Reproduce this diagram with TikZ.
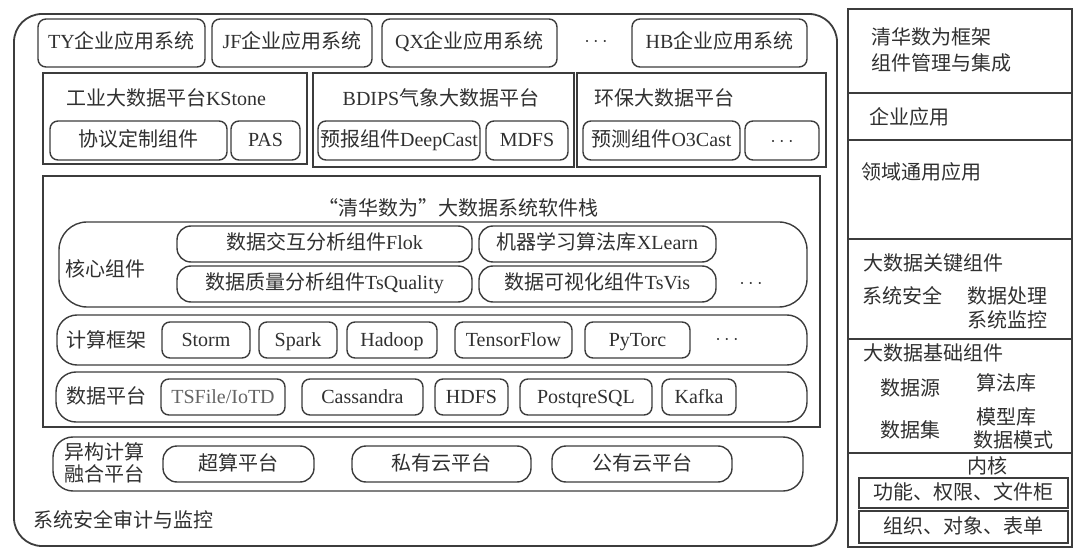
\documentclass[tikz,border=0pt]{standalone}
\usepackage{fontspec}
\setmainfont{Liberation Serif}
\newfontfamily\cjk{Noto Sans CJK SC}
\newcommand\zh[1]{{\cjk #1}}
\definecolor{lc}{HTML}{3C3C3C}
\definecolor{tc}{HTML}{303030}
\tikzset{
  ln/.style={draw=lc, line width=0.9pt},
  thin ln/.style={draw=lc, line width=0.7pt},
  rbox/.style={thin ln, rounded corners=4pt, inner sep=0pt, text=tc, font=\fontsize{10}{12}\selectfont, text height=7.8pt, text depth=1.8pt},
  grp/.style={thin ln, rounded corners=10pt, inner sep=0pt},
  plat/.style={thin ln, inner sep=0pt, text=tc, font=\fontsize{10}{12}\selectfont, text height=7.8pt, text depth=1.8pt},
  txt/.style={text=tc, inner sep=0pt, font=\fontsize{10}{12}\selectfont},
  lab/.style={txt, anchor=west},
}
% box from pixel corners: style, x1, y1, x2, y2, name
\newcommand\bx[6]{\node[#1, minimum width={(#4-#2)*0.5pt}, minimum height={(#5-#3)*0.5pt}] (#6) at ({(#2+#4)/2},{(#3+#5)/2})}
\begin{document}
\begin{tikzpicture}[x=0.5pt,y=-0.5pt]
\useasboundingbox (0,0) rectangle (1080,555);
% outer frame
\bx{ln, rounded corners=14pt, inner sep=0pt}{14}{14}{837}{546}{outer} {};
% top row
\bx{rbox}{38}{19}{205}{67}{ty} {TY\zh{企业应用系统}};
\bx{rbox}{212}{19}{372}{67}{jf} {JF\zh{企业应用系统}};
\bx{rbox}{382}{19}{557}{67}{qx} {QX\zh{企业应用系统}};
\node[txt] (d1) at (596,42) {$\cdots$};
\bx{rbox}{632}{19}{807}{67}{hb} {HB\zh{企业应用系统}};
% platforms
\bx{plat}{43}{73}{307}{164}{p1} {};
\bx{plat}{313}{73}{574}{167}{p2} {};
\bx{plat}{577}{73}{826}{167}{p3} {};
\node[txt] (p1t) at (166,98) {\zh{工业大数据平台}KStone};
\node[txt] (p2t) at (441,98) {BDIPS\zh{气象大数据平台}};
\node[txt] (p3t) at (664,98) {\zh{环保大数据平台}};
\bx{rbox}{50}{121}{227}{160}{xy} {\zh{协议定制组件}};
\bx{rbox}{231}{121}{300}{160}{pas} {PAS};
\bx{rbox}{318}{121}{480}{160}{dc} {\zh{预报组件}DeepCast};
\bx{rbox}{486}{121}{568}{160}{mdfs} {MDFS};
\bx{rbox}{583}{121}{740}{160}{o3} {\zh{预测组件}O3Cast};
\bx{rbox}{745}{121}{819}{160}{d2} {$\cdots$};
% software stack
\bx{plat}{43}{176}{820}{427}{stack} {};
\node[txt] (stackt) at (458,208) {\zh{“清华数为”大数据系统软件栈}};
% core components
\bx{grp, rounded corners=14pt}{59}{222}{807}{307}{core} {};
\node[txt] (coret) at (105,269) {\zh{核心组件}};
\bx{rbox, rounded corners=7pt}{177}{226}{472}{262}{flok} {\zh{数据交互分析组件}Flok};
\bx{rbox, rounded corners=7pt}{479}{226}{716}{262}{xl} {\zh{机器学习算法库}XLearn};
\bx{rbox, rounded corners=7pt}{177}{266}{472}{302}{tsq} {\zh{数据质量分析组件}TsQuality};
\bx{rbox, rounded corners=7pt}{479}{266}{716}{302}{tsv} {\zh{数据可视化组件}TsVis};
\node[txt] (d3) at (751,284) {$\cdots$};
% computing frameworks
\bx{grp}{57}{315}{807}{365}{comp} {};
\node[txt] (compt) at (106,340) {\zh{计算框架}};
\bx{rbox}{162}{322}{250}{358}{storm} {Storm};
\bx{rbox}{259}{322}{337}{358}{spark} {Spark};
\bx{rbox}{347}{322}{437}{358}{hadoop} {Hadoop};
\bx{rbox}{455}{322}{572}{358}{tf} {TensorFlow};
\bx{rbox}{585}{322}{690}{358}{pyt} {PyTorc};
\node[txt] (d4) at (727,340) {$\cdots$};
% data platform
\bx{grp}{56}{372}{807}{422}{data} {};
\node[txt] (datat) at (106,396) {\zh{数据平台}};
\bx{rbox}{161}{379}{285}{415}{tsf} {\textcolor{tc!75}{TSFile/IoTD}};
\bx{rbox}{302}{379}{423}{415}{cas} {Cassandra};
\bx{rbox}{435}{379}{508}{415}{hdfs} {HDFS};
\bx{rbox}{520}{379}{652}{415}{pg} {PostqreSQL};
\bx{rbox}{662}{379}{736}{415}{kafka} {Kafka};
% heterogeneous computing
\bx{grp}{53}{437}{803}{491}{het} {};
\node[txt, align=left] (hett) at (104,463) {\zh{异构计算}\\[-1pt]\zh{融合平台}};
\bx{rbox, rounded corners=7pt}{163}{446}{314}{482}{sc} {\zh{超算平台}};
\bx{rbox, rounded corners=7pt}{352}{446}{531}{482}{prc} {\zh{私有云平台}};
\bx{rbox, rounded corners=7pt}{552}{446}{732}{482}{puc} {\zh{公有云平台}};
\node[lab] (audit) at (33,520) {\zh{系统安全审计与监控}};
% right column
\bx{plat, line width=0.9pt}{848}{9}{1072}{547}{rc} {};
\coordinate (r1) at (848,93);  \coordinate (r1e) at (1072,93);
\coordinate (r2) at (848,140); \coordinate (r2e) at (1072,140);
\coordinate (r3) at (848,239); \coordinate (r3e) at (1072,239);
\coordinate (r4) at (848,339); \coordinate (r4e) at (1072,339);
\coordinate (r5) at (848,453); \coordinate (r5e) at (1072,453);
\foreach \a/\b in {r1/r1e,r2/r2e,r3/r3e,r4/r4e,r5/r5e} \draw[thin ln] (\a) -- (\b);
\node[lab, align=left] (fw) at (871,50) {\zh{清华数为框架}\\[1pt]\zh{组件管理与集成}};
\node[lab] (qy) at (869,117) {\zh{企业应用}};
\node[lab] (ly) at (861,172) {\zh{领域通用应用}};
\node[lab] (gj) at (863,263) {\zh{大数据关键组件}};
\node[lab] (aq) at (862,296) {\zh{系统安全}};
\node[lab] (cl) at (967,296) {\zh{数据处理}};
\node[lab] (jk) at (967,320) {\zh{系统监控}};
\node[lab] (jc) at (863,353) {\zh{大数据基础组件}};
\node[lab] (sy) at (880,388) {\zh{数据源}};
\node[lab] (sf) at (976,383) {\zh{算法库}};
\node[lab] (sj) at (880,430) {\zh{数据集}};
\node[lab] (mx) at (976,417) {\zh{模型库}};
\node[lab] (ms) at (973,440) {\zh{数据模式}};
\node[txt] (nh) at (987,466) {\zh{内核}};
\bx{plat}{859}{478}{1068}{508}{gn} {\zh{功能、权限、文件柜}};
\bx{plat}{859}{511}{1068}{543}{zz} {\zh{组织、对象、表单}};
\end{tikzpicture}
\end{document}
